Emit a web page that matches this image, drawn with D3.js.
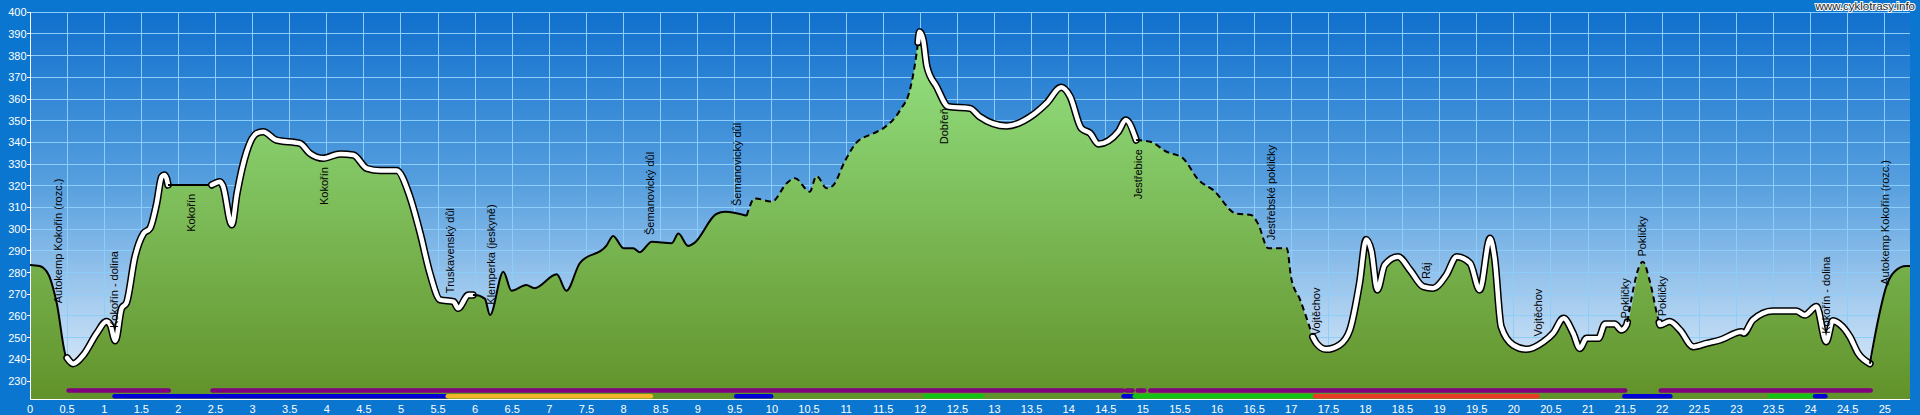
<!DOCTYPE html>
<html><head><meta charset="utf-8">
<script src="https://cdn.jsdelivr.net/npm/d3@7/dist/d3.min.js"></script>
<style>html,body{margin:0;padding:0;background:#0a76cf;overflow:hidden}</style>
</head><body>
<script>
// ---------- DATA ----------
const distKm = [0,0.13,0.25,0.36,0.49,0.58,0.72,0.90,1.03,1.08,1.15,1.235,1.30,1.415,1.53,1.617,1.707,1.775,1.81,1.84,1.86,2.45,2.56,2.60,2.72,2.79,2.92,3.055,3.144,3.32,3.64,3.77,3.95,4.18,4.36,4.54,4.72,4.94,5.12,5.26,5.39,5.53,5.71,5.77,5.91,6.0,6.13,6.2,6.38,6.49,6.69,6.8,7.1,7.23,7.41,7.77,7.86,8.0,8.13,8.22,8.38,8.65,8.74,8.87,8.96,9.25,9.37,9.66,9.77,10.0,10.2,10.31,10.51,10.6,10.74,10.83,10.98,11.14,11.37,11.5,11.73,11.86,11.93,11.99,12.04,12.09,12.22,12.38,12.67,12.8,13.16,13.52,13.7,13.9,14.02,14.17,14.29,14.4,14.67,14.77,14.91,15.1,15.32,15.54,15.75,15.95,16.25,16.46,16.55,16.69,16.94,17.0,17.12,17.29,17.34,17.47,17.65,17.79,17.92,18.01,18.08,18.16,18.26,18.44,18.6,18.78,18.91,19.09,19.23,19.41,19.54,19.68,19.74,19.83,19.99,20.17,20.4,20.53,20.67,20.8,20.89,20.98,21.14,21.23,21.36,21.45,21.52,21.74,21.83,21.95,21.97,22.1,22.24,22.42,22.6,22.78,23.07,23.1,23.22,23.49,23.81,23.92,24.08,24.21,24.3,24.39,24.53,24.64,24.8,24.91,25.02,25.13,25.29,25.34];
const elevM = [283.5,283,279,266,241,238,242,252,257.4,256,248.6,263.5,266,287.3,298,300.4,311.9,324.2,325,323.5,320.4,320.4,321.9,320,302,316.5,335.7,344.2,344.9,341.1,339.6,335,332.7,334.7,334.2,328,327,327,315,298,279.7,267.4,266.6,263.5,269.7,269.7,268,260.4,280.4,271.6,274.3,272.8,279.2,271.6,284.3,292.4,296.9,291.2,291.2,289.4,294.2,293.5,298,292.3,293.8,307,308,306.2,314.2,312.7,321.2,323.5,317.3,324.5,318.9,320.4,331.1,339.9,344.2,346.5,355,364.2,376.5,391,387.2,374.9,365.7,356.5,355.7,351.9,347.6,352.7,358,365.4,361.1,346.5,344.2,339.3,345,350.3,341.1,340.3,335.7,332.7,322.7,318,307.3,306.5,302.7,291.2,291.2,277.4,267.4,250.4,247.4,244.6,246.6,253.5,275,295.3,290,272,283.5,287.3,281.2,273.5,272.8,278.9,287.3,284.3,272,295.8,287,255,246.6,244.6,248.1,252,258.9,252,245,249.7,249.7,256.3,256.3,253.5,255.8,285,276.4,258.1,255.8,257.4,253.5,245.8,247.4,248.9,252.7,252,258.1,262.3,262.3,260.4,264.3,248.1,257.8,256.3,250.4,242.8,238,258.1,273.5,280.4,283,283];

// line style segments along the route
const lineBreakKm = [0,0.5,1.86,2.45,5.97,9.66,11.97,14.91,17.29,21.53,21.96,24.8,25.34];
const lineKinds = ["solid","white","solid","white","solid","dashed","white","dashed","white","dashed","white","solid"];

// waypoints
const wpNames = ["Autokemp Kokořín (rozc.)","Kokořín - dolina","Kokořín","Kokořín","Truskavenský důl","Klemperka (jeskyně)","Šemanovický důl","Šemanovický důl","Dobřeň","Jestřebice","Jestřebské pokličky","Vojtěchov","Ráj","Vojtěchov","Pokličky","Pokličky","Pokličky","Kokořín - dolina","Autokemp Kokořín (rozc.)"];
const wpKm = [0.38,1.13,2.17,3.96,5.66,6.21,8.36,9.53,12.32,14.93,16.73,17.34,18.82,20.32,21.5,21.73,22.0,24.21,25.0];

// route marker bars (upper row, lower row)
const row1Start = [0.52,2.46,14.78,14.93,15.1,21.98];
const row1End   = [1.87,14.73,14.86,15.02,21.5,24.81];
const row2Start = [1.14,5.63,9.52,12.07,14.74,14.89,17.32,21.49,23.45,24.06];
const row2End   = [5.63,8.37,9.99,12.83,14.89,17.32,20.32,22.11,24.06,24.2];
const row2Kind  = ["A","B","A","C","A","C","D","A","C","A"];

const xTicks = [0,0.5,1,1.5,2,2.5,3,3.5,4,4.5,5,5.5,6,6.5,7,7.5,8,8.5,9,9.5,10,10.5,11,11.5,12,12.5,13,13.5,14,14.5,15,15.5,16,16.5,17,17.5,18,18.5,19,19.5,20,20.5,21,21.5,22,22.5,23,23.5,24,24.5,25];
const yTicks = [230,240,250,260,270,280,290,300,310,320,330,340,350,360,370,380,390,400];

// ---------- RENDER ----------
const W = 1920, H = 415;
const kindColor = {A:"#0000d8", B:"#f2b52a", C:"#14c214", D:"#e83c26"};
const x = d3.scaleLinear().domain([0, 25.34]).range([30, 1910]);
const y = d3.scaleLinear().domain([230, 400]).range([381, 12.3]);
const plotTop = 12, plotBottom = 399.5, plotLeft = x(0), plotRight = x(25.34);
const curve = d3.curveMonotoneX;

const svg = d3.select("body").append("svg").attr("width", W).attr("height", H)
  .style("font-family", "'Liberation Sans', Arial, sans-serif");
const defs = svg.append("defs");
const sky = defs.append("linearGradient").attr("id","sky").attr("gradientUnits","userSpaceOnUse")
  .attr("x1",0).attr("x2",0).attr("y1",plotTop).attr("y2",plotBottom);
sky.append("stop").attr("offset",0).attr("stop-color","#1070cd");
sky.append("stop").attr("offset",0.45).attr("stop-color","#58a0df");
sky.append("stop").attr("offset",1).attr("stop-color","#e8f2fc");
const grass = defs.append("linearGradient").attr("id","grass").attr("gradientUnits","userSpaceOnUse")
  .attr("x1",0).attr("x2",0).attr("y1",plotTop).attr("y2",plotBottom);
grass.append("stop").attr("offset",0).attr("stop-color","#98e88a");
grass.append("stop").attr("offset",1).attr("stop-color","#62922a");

svg.append("rect").attr("width",W).attr("height",H).attr("fill","#0a76cf");
svg.append("rect").attr("x",plotLeft).attr("y",plotTop).attr("width",plotRight-plotLeft)
  .attr("height",plotBottom-plotTop).attr("fill","url(#sky)");

// grid
const grid = svg.append("g").attr("stroke","#8ccdf9").attr("stroke-width",1).attr("shape-rendering","crispEdges");
grid.selectAll("line.v").data(xTicks.slice(1)).join("line")
  .attr("x1",d=>x(d)).attr("x2",d=>x(d)).attr("y1",plotTop).attr("y2",plotBottom);
grid.selectAll("line.h").data(yTicks).join("line")
  .attr("x1",plotLeft).attr("x2",plotRight).attr("y1",d=>y(d)).attr("y2",d=>y(d));

const pts = distKm.map((d,i)=>[d, elevM[i]]);
const bis = d3.bisector(d=>d[0]).left;
function elevAt(k){
  let i = bis(pts, k);
  if (i <= 0) return pts[0][1];
  if (i >= pts.length) return pts[pts.length-1][1];
  const a = pts[i-1], b = pts[i];
  return a[1] + (b[1]-a[1])*(k-a[0])/(b[0]-a[0]);
}

// area fill
const area = d3.area().curve(curve).x(d=>x(d[0])).y0(plotBottom).y1(d=>y(d[1]));
svg.append("path").datum(pts).attr("d",area).attr("fill","url(#grass)");

// bars
svg.append("g").selectAll("line").data(row1Start).join("line")
  .attr("x1",(d)=>x(d)).attr("x2",(d,i)=>x(row1End[i])).attr("y1",390.5).attr("y2",390.5)
  .attr("stroke","#800080").attr("stroke-width",4.5).attr("stroke-linecap","round");
svg.append("g").selectAll("line").data(row2Start).join("line")
  .attr("x1",(d)=>x(d)).attr("x2",(d,i)=>x(row2End[i])).attr("y1",396.3).attr("y2",396.3)
  .attr("stroke",(d,i)=>kindColor[row2Kind[i]]).attr("stroke-width",4.5).attr("stroke-linecap","round");

// axes
const axes = svg.append("g").attr("stroke","#fff").attr("shape-rendering","crispEdges");
axes.append("line").attr("x1",plotLeft).attr("x2",plotLeft).attr("y1",plotTop).attr("y2",plotBottom);
axes.append("line").attr("x1",plotLeft).attr("x2",plotRight).attr("y1",plotBottom).attr("y2",plotBottom);
axes.selectAll("line.t").data(yTicks).join("line")
  .attr("x1",plotLeft-3).attr("x2",plotLeft).attr("y1",d=>y(d)).attr("y2",d=>y(d));
svg.append("g").selectAll("text").data(yTicks).join("text")
  .attr("x",26.5).attr("y",d=>y(d)+4).attr("text-anchor","end")
  .attr("fill","#fff").attr("font-size","11px").text(d=>d);
svg.append("g").selectAll("text").data(xTicks).join("text")
  .attr("x",d=>x(d)).attr("y",413).attr("text-anchor","middle")
  .attr("fill","#fff").attr("font-size","11px").text(d=>d);

// profile line
const line = d3.line().curve(curve).x(d=>x(d[0])).y(d=>y(d[1]));
const segs = lineKinds.map((k,i)=>{
  const a = lineBreakKm[i], b = lineBreakKm[i+1];
  const s = [[a, elevAt(a)]].concat(pts.filter(p=>p[0]>a && p[0]<b)).concat([[b, elevAt(b)]]);
  return {kind:k, pts:s};
});
const lg = svg.append("g").attr("fill","none").attr("stroke-linejoin","round");
segs.forEach(s=>{
  if (s.kind === "white") {
    lg.append("path").attr("d",line(s.pts)).attr("stroke","#000").attr("stroke-width",7.5).attr("stroke-linecap","round");
  }
});
segs.forEach(s=>{
  if (s.kind === "white") {
    lg.append("path").attr("d",line(s.pts)).attr("stroke","#fff").attr("stroke-width",4.5).attr("stroke-linecap","round");
  } else if (s.kind === "solid") {
    lg.append("path").attr("d",line(s.pts)).attr("stroke","#000").attr("stroke-width",2);
  } else {
    lg.append("path").attr("d",line(s.pts)).attr("stroke","#000").attr("stroke-width",2).attr("stroke-dasharray","6,4");
  }
});

// waypoint labels
svg.append("g").selectAll("text").data(wpNames).join("text")
  .each(function(name,i){
    const k = wpKm[i], e = elevAt(k);
    const px = x(k) + 4;
    const below = e > 315;
    const py = below ? y(e) + 9 : y(e) - 8;
    d3.select(this).attr("transform",`translate(${px},${py}) rotate(-90)`)
      .attr("text-anchor", below ? "end" : "start");
  })
  .attr("font-size","11px").attr("fill","#000").text(d=>d);

// watermark
svg.append("text").attr("x",1915).attr("y",10).attr("text-anchor","end")
  .attr("font-size","11.5px").attr("fill","#222").attr("stroke","#fff").attr("stroke-width",2)
  .attr("paint-order","stroke").text("www.cyklotrasy.info");
</script>
</body></html>
